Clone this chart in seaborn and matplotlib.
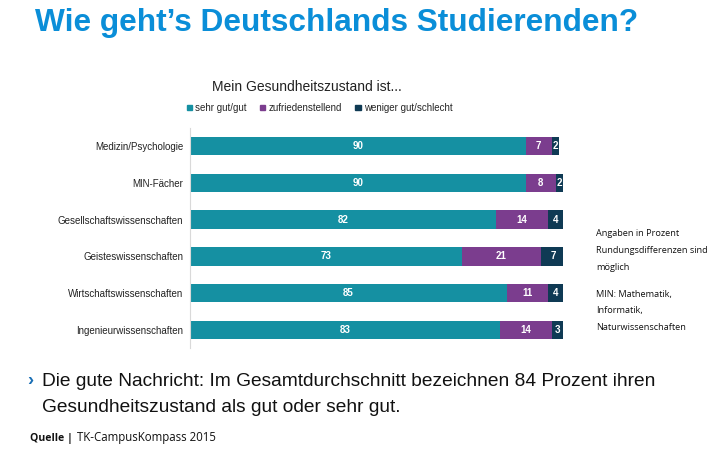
import matplotlib
matplotlib.use("Agg")
import matplotlib.pyplot as plt
import seaborn as sns
import pandas as pd
import numpy as np
from matplotlib.patches import Patch

categories = ["Medizin/Psychologie", "MIN-Fächer", "Gesellschaftswissenschaften",
              "Geisteswissenschaften", "Wirtschaftswissenschaften", "Ingenieurwissenschaften"]
sehr_gut = [90, 90, 82, 73, 85, 83]
zufrieden = [7, 8, 14, 21, 11, 14]
weniger = [2, 2, 4, 7, 4, 3]
series_names = ["sehr gut/gut", "zufriedenstellend", "weniger gut/schlecht"]
colors = ["#1590a2", "#7b3d8e", "#0f3a54"]

sns.set_theme(style="white")
plt.rcParams['font.family'] = ['Liberation Sans', 'DejaVu Sans']

df = pd.DataFrame({"cat": categories, "s1": sehr_gut, "s2": zufrieden, "s3": weniger})
df["c1"] = df["s1"]
df["c2"] = df["s1"] + df["s2"]
df["c3"] = df["c2"] + df["s3"]

fig = plt.figure(figsize=(7.22, 4.49), dpi=100)
ax = fig.add_axes([190/722, 1-348.4/449, 373/722, 220.8/449])

for col, c in zip(["c3", "c2", "c1"], colors[::-1]):
    sns.barplot(data=df, x=col, y="cat", color=c, width=0.5, ax=ax,
                saturation=1, orient="h", linewidth=0)

for i, row in df.iterrows():
    starts = [0, row["c1"], row["c2"]]
    vals = [row["s1"], row["s2"], row["s3"]]
    for s, v in zip(starts, vals):
        ax.text(s + v/2, i, f"{v}", ha="center", va="center", color="white",
                fontsize=7, fontweight="bold")

ax.set_xlim(0, 100)
ax.set_ylim(5.5, -0.5)
ax.set_xlabel("")
ax.set_ylabel("")
ax.set_xticks([])
ax.tick_params(axis="y", length=0, pad=5, labelsize=7, colors="#222222")
for sp in ["top", "right", "bottom"]:
    ax.spines[sp].set_visible(False)
ax.spines["left"].set_color("#d9d9d9")
ax.spines["left"].set_linewidth(0.8)

handles = [Patch(facecolor=c, edgecolor=c) for c in colors]
fig.legend(handles, series_names, loc="center left", bbox_to_anchor=(178/722, 1-108/449),
           ncol=3, frameon=False, fontsize=7, handlelength=0.55, handleheight=0.55,
           handletextpad=0.3, columnspacing=1.4)

fig.text(307/722, 1-87/449, "Mein Gesundheitszustand ist...", ha="center", va="center",
         fontsize=10, color="#222222")

fig.text(35/722, 1-23/449, "Wie geht’s Deutschlands Studierenden?", ha="left", va="center",
         fontsize=22.8, fontweight="bold", color="#0a8ed8")

notes = [(233, "Angaben in Prozent"), (251, "Rundungsdifferenzen sind"), (268, "möglich"),
         (294, "MIN: Mathematik,"), (311, "Informatik,"), (328, "Naturwissenschaften")]
for y, t in notes:
    fig.text(596/722, 1-y/449, t, ha="left", va="center", fontsize=6.6,
             family=["Open Sans", "DejaVu Sans"], color="#111111")

fig.text(27/722, 1-381/449, "›", ha="left", va="center", fontsize=13,
         fontweight="bold", color="#1a6fb5")
fig.text(42/722, 1-381/449, "Die gute Nachricht: Im Gesamtdurchschnitt bezeichnen 84 Prozent ihren",
         ha="left", va="center", fontsize=13.8, color="#111111")
fig.text(42/722, 1-408/449, "Gesundheitszustand als gut oder sehr gut.",
         ha="left", va="center", fontsize=13.8, color="#111111")

q = fig.text(30/722, 1-441/449, "Quelle |", ha="left", va="baseline", fontsize=7.6,
             fontweight="bold", family=["Open Sans", "DejaVu Sans"], color="#111111")
fig.canvas.draw()
bb = q.get_window_extent(renderer=fig.canvas.get_renderer())
fig.text((bb.x1 + 4)/722, 1-441/449, "TK-CampusKompass 2015", ha="left", va="baseline",
         fontsize=8.3, family=["Open Sans", "DejaVu Sans"], color="#111111")

fig.savefig("out.png", dpi=100)
